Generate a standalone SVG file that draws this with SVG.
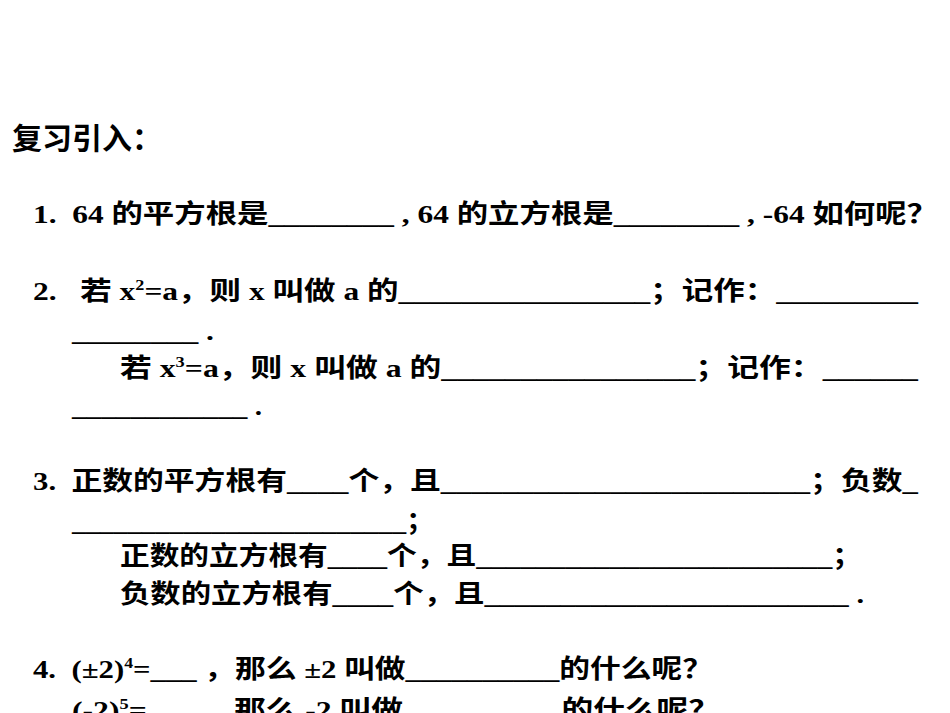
<svg xmlns="http://www.w3.org/2000/svg" width="950" height="713" viewBox="0 0 950 713">
<style>
.t{font-family:"Liberation Serif","Noto Sans CJK SC",serif;font-weight:bold;font-size:26px;fill:#000}
.s{font-size:15px}
</style>
<rect width="950" height="713" fill="#fff"/>
<text x="12" y="149" style="font-family:'Noto Sans CJK SC',sans-serif;font-weight:bold;font-size:30px">复习引入：</text>
<text class="t" x="33" y="223" textLength="905" lengthAdjust="spacingAndGlyphs">1.&#160; 64 的平方根是________ , 64 的立方根是________ , -64 如何呢？</text>
<text class="t" x="33" y="300" textLength="885" lengthAdjust="spacingAndGlyphs">2.&#160;&#160; 若 x<tspan class="s" dy="-10">2</tspan><tspan dy="10">=a，则 x 叫做 a 的________________；记作：_________</tspan></text>
<text class="t" x="72" y="340" textLength="142" lengthAdjust="spacingAndGlyphs">________ .</text>
<text class="t" x="120" y="377" textLength="798" lengthAdjust="spacingAndGlyphs">若 x<tspan class="s" dy="-10">3</tspan><tspan dy="10">=a，则 x 叫做 a 的________________；记作：______</tspan></text>
<text class="t" x="72" y="415" textLength="190" lengthAdjust="spacingAndGlyphs">____________ .</text>
<text class="t" x="33" y="490" textLength="885" lengthAdjust="spacingAndGlyphs">3.&#160; 正数的平方根有____个，且________________________；负数_</text>
<text class="t" x="72" y="530" textLength="362" lengthAdjust="spacingAndGlyphs">________________________；</text>
<text class="t" x="120" y="565" textLength="742" lengthAdjust="spacingAndGlyphs">正数的立方根有____个，且________________________；</text>
<text class="t" x="120" y="603" textLength="744" lengthAdjust="spacingAndGlyphs">负数的立方根有____个，且________________________ .</text>
<text class="t" x="33" y="678" textLength="680" lengthAdjust="spacingAndGlyphs">4.&#160; (±2)<tspan class="s" dy="-10">4</tspan><tspan dy="10">=___ ，那么 ±2 叫做__________的什么呢？</tspan></text>
<text class="t" x="72" y="719" textLength="648" lengthAdjust="spacingAndGlyphs">(-2)<tspan class="s" dy="-10">5</tspan><tspan dy="10">=___ ，那么 -2 叫做__________的什么呢？</tspan></text>
</svg>
